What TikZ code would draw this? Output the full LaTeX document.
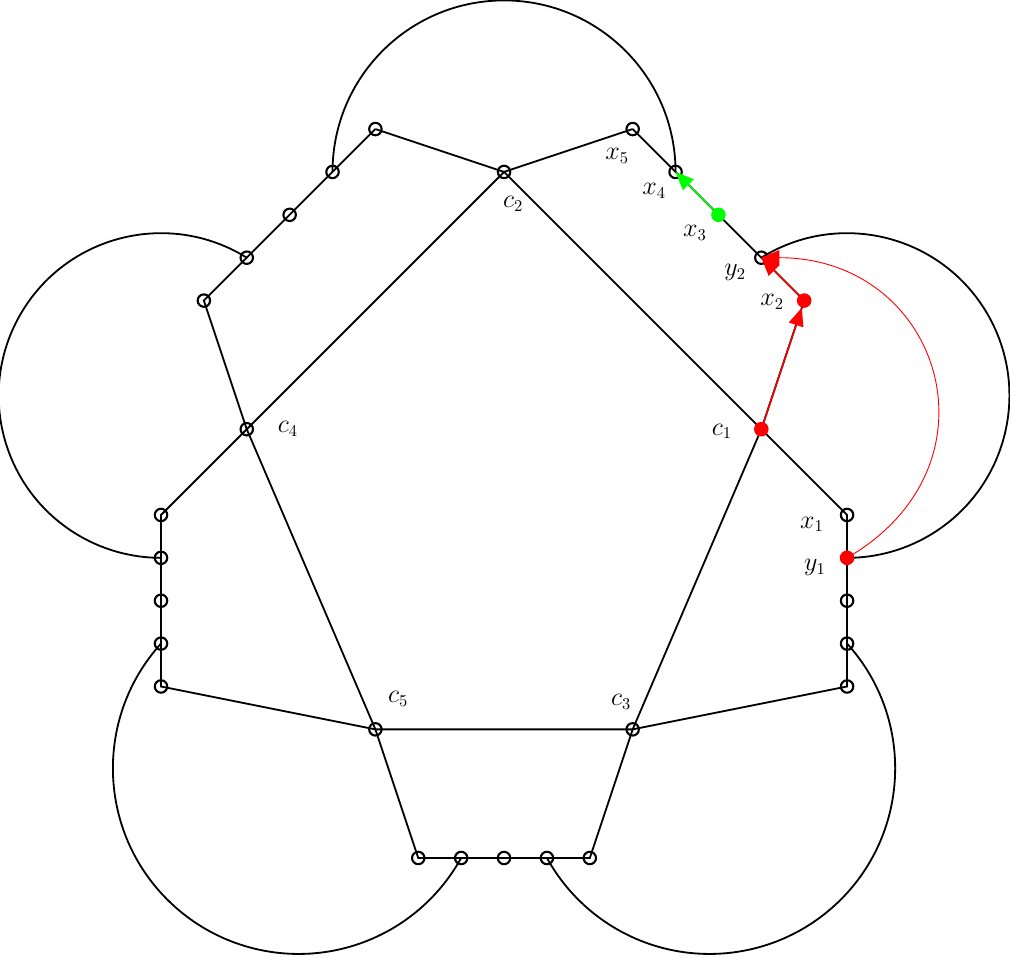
\documentclass[tikz,border=0pt]{standalone}
\usetikzlibrary{arrows.meta}
\pgfdeclarelayer{bg}
\pgfsetlayers{bg,main}
\begin{document}
\begin{tikzpicture}[
 vtx/.style={circle, draw, line width=1.4pt, minimum size=0.29cm, inner sep=0pt},
 rdot/.style={circle, fill=red, minimum size=0.34cm, inner sep=0pt},
 gdot/.style={circle, fill=green, minimum size=0.34cm, inner sep=0pt},
 edge/.style={line width=1.2pt},
 lbl/.style={font=\fontsize{16}{19}\selectfont, inner sep=0pt},
 arr/.style={-{Triangle[length=12pt,width=10pt]}, line width=1pt},
]
\useasboundingbox (-3.755,-2.33) rectangle (19.80,20.01);
% centres
\node[rdot] (c1) at (14,10) {};
\node[vtx] (c2) at (8,16) {};
\node[vtx] (c3) at (11,3) {};
\node[vtx] (c4) at (2,10) {};
\node[vtx] (c5) at (5,3) {};
% top
\node[vtx] (t1) at (5,17) {};
\node[vtx] (x5) at (11,17) {};
% upper left chain
\node[vtx] (a1) at (4,16) {};
\node[vtx] (a2) at (3,15) {};
\node[vtx] (a3) at (2,14) {};
\node[vtx] (a4) at (1,13) {};
% upper right chain
\node[vtx] (x4) at (12,16) {};
\node[gdot] (x3) at (13,15) {};
\node[vtx] (y2) at (14,14) {};
\node[rdot] (x2) at (15,13) {};
% right column
\node[vtx] (x1) at (16,8) {};
\node[rdot] (y1) at (16,7) {};
\node[vtx] (r3) at (16,6) {};
\node[vtx] (r4) at (16,5) {};
\node[vtx] (r5) at (16,4) {};
% left column
\node[vtx] (l1) at (0,8) {};
\node[vtx] (l2) at (0,7) {};
\node[vtx] (l3) at (0,6) {};
\node[vtx] (l4) at (0,5) {};
\node[vtx] (l5) at (0,4) {};
% bottom row
\node[vtx] (b1) at (6,0) {};
\node[vtx] (b2) at (7,0) {};
\node[vtx] (b3) at (8,0) {};
\node[vtx] (b4) at (9,0) {};
\node[vtx] (b5) at (10,0) {};

\begin{pgfonlayer}{bg}
\draw[edge] (c1.center) -- (c2.center) -- (c4.center) -- (c5.center) -- (c3.center) -- (c1.center);
\draw[edge] (t1.center) -- (c2.center) -- (x5.center);
\draw[edge] (t1.center) -- (a1.center) -- (a2.center) -- (a3.center) -- (a4.center) -- (c4.center);
\draw[edge] (x5.center) -- (x4.center) -- (x3.center) -- (y2.center) -- (x2.center) -- (c1.center);
\draw[edge] (c1.center) -- (x1.center) -- (y1.center) -- (r3.center) -- (r4.center) -- (r5.center) -- (c3.center);
\draw[edge] (c4.center) -- (l1.center) -- (l2.center) -- (l3.center) -- (l4.center) -- (l5.center) -- (c5.center);
\draw[edge] (c5.center) -- (b1.center) -- (b2.center) -- (b3.center) -- (b4.center) -- (b5.center) -- (c3.center);
% arcs
\draw[edge] (a1.center) arc[start angle=180, end angle=0, radius=4];
\draw[edge] (y2.center) arc[start angle=121.89, end angle=-90, radius=3.786];
\draw[edge] (a3.center) arc[start angle=58.11, end angle=270, radius=3.786];
\draw[edge] (l4.center) arc[start angle=137.81, end angle=331.13, radius=4.33];
\draw[edge] (r4.center) arc[start angle=42.19, end angle=-151.13, radius=4.33];
\end{pgfonlayer}

% coloured arrows
\draw[arr, red] (c1) -- (x2);
\draw[arr, red] (x2) -- (y2.center);
\draw[arr, green] (x3) -- (x4.center);
\draw[red, line width=0.6pt, -{Triangle[length=12pt,width=10pt]}] (y1.center) to[out=30, in=0, out distance=4.3cm, in distance=4.2cm] (y2.center);

% labels
\node[lbl] (lx5) at (10.64,16.37) {$x_5$};
\node[lbl] (lx4) at (11.50,15.55) {$x_4$};
\node[lbl] (lx3) at (12.45,14.57) {$x_3$};
\node[lbl] (ly2) at (13.39,13.66) {$y_2$};
\node[lbl] (lx2) at (14.25,12.96) {$x_2$};
\node[lbl] (lc1) at (13.08,9.95) {$c_1$};
\node[lbl] (lx1) at (15.18,7.78) {$x_1$};
\node[lbl] (ly1) at (15.25,6.77) {$y_1$};
\node[lbl] (lc2) at (8.21,15.25) {$c_2$};
\node[lbl] (lc4) at (2.96,10.0) {$c_4$};
\node[lbl] (lc5) at (5.53,3.71) {$c_5$};
\node[lbl] (lc3) at (10.73,3.64) {$c_3$};
\end{tikzpicture}
\end{document}
